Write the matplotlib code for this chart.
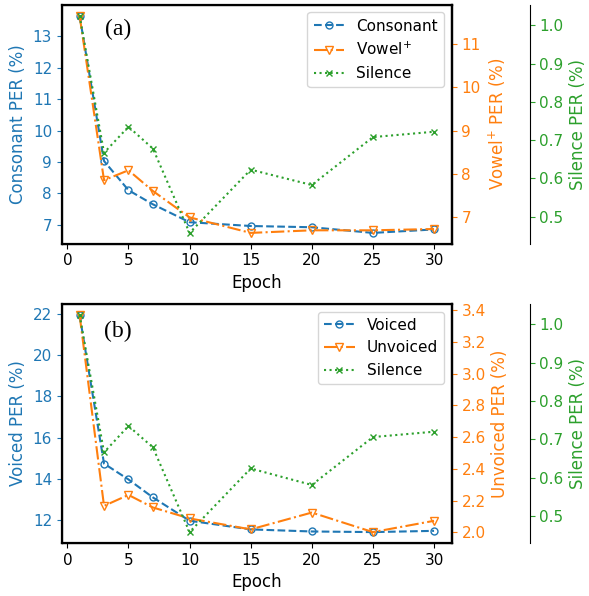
import matplotlib
matplotlib.use("Agg")
import matplotlib.pyplot as plt

epochs = [1, 3, 5, 7, 10, 15, 20, 25, 30]

consonant = [13.66, 9.03, 8.10, 7.65, 7.08, 6.96, 6.92, 6.74, 6.85]
vowel = [11.66, 7.85, 8.08, 7.60, 6.99, 6.63, 6.69, 6.69, 6.72]
silence_a = [1.025, 0.667, 0.735, 0.678, 0.458, 0.623, 0.583, 0.708, 0.722]

voiced = [21.95, 14.74, 13.97, 13.10, 11.97, 11.55, 11.45, 11.42, 11.48]
unvoiced = [3.37, 2.167, 2.236, 2.157, 2.088, 2.019, 2.125, 2.002, 2.073]
silence_b = [1.025, 0.666, 0.735, 0.679, 0.458, 0.624, 0.581, 0.706, 0.720]

C_BLUE = '#1f77b4'
C_ORANGE = '#ff7f0e'
C_GREEN = '#2ca02c'

fig = plt.figure(figsize=(5.89, 5.96), dpi=100)
L, R = 0.105, 0.767
axa = fig.add_axes([L, 0.591, R - L, 0.401])
axb = fig.add_axes([L, 0.089, R - L, 0.401])


def panel(ax, y1, y2, y3, n1, n2, lab1, lab2, tag, tagy):
    ax2 = ax.twinx()
    ax3 = ax.twinx()
    ax3.spines['right'].set_position(('axes', 1.2))
    for s in ax.spines.values():
        s.set_linewidth(1.6)
    ax2.spines['right'].set_linewidth(1.6)
    l1, = ax.plot(epochs, y1, linestyle='--', marker='o', color=C_BLUE,
                  markerfacecolor='none', markersize=5, label=n1)
    l2, = ax2.plot(epochs, y2, linestyle='-.', marker='v', color=C_ORANGE,
                   markerfacecolor='none', markersize=6, label=n2)
    l3, = ax3.plot(epochs, y3, linestyle=':', marker='x', color=C_GREEN,
                   markersize=5, label='Silence')
    ax.set_xlabel('Epoch', fontsize=12)
    ax.set_xticks([0, 5, 10, 15, 20, 25, 30])
    ax.tick_params(axis='x', labelsize=11)
    ax.set_ylabel(lab1, color=C_BLUE, fontsize=12)
    ax2.set_ylabel(lab2, color=C_ORANGE, fontsize=12)
    ax3.set_ylabel('Silence PER (%)', color=C_GREEN, fontsize=12)
    ax.tick_params(axis='y', colors=C_BLUE, labelsize=11)
    ax2.tick_params(axis='y', colors=C_ORANGE, labelsize=11)
    ax3.tick_params(axis='y', colors=C_GREEN, labelsize=11)
    ax3.set_yticks([0.5, 0.6, 0.7, 0.8, 0.9, 1.0])
    ax3.legend(handles=[l1, l2, l3], loc='upper right', fontsize=11)
    ax.text(0.144, tagy, tag, transform=ax.transAxes, fontsize=17,
            family='Liberation Serif', va='center', ha='center')
    return ax2, ax3


a2, a3 = panel(axa, consonant, vowel, silence_a, 'Consonant', 'Vowel$^{+}$',
               'Consonant PER (%)', 'Vowel$^{+}$ PER (%)', '(a)', 0.895)
axa.set_yticks([7, 8, 9, 10, 11, 12, 13])
a2.set_yticks([7, 8, 9, 10, 11])
b2, b3 = panel(axb, voiced, unvoiced, silence_b, 'Voiced', 'Unvoiced',
               'Voiced PER (%)', 'Unvoiced PER (%)', '(b)', 0.885)
axb.set_yticks([12, 14, 16, 18, 20, 22])
b2.set_yticks([2.0, 2.2, 2.4, 2.6, 2.8, 3.0, 3.2, 3.4])

fig.savefig('out.png', dpi=100)
